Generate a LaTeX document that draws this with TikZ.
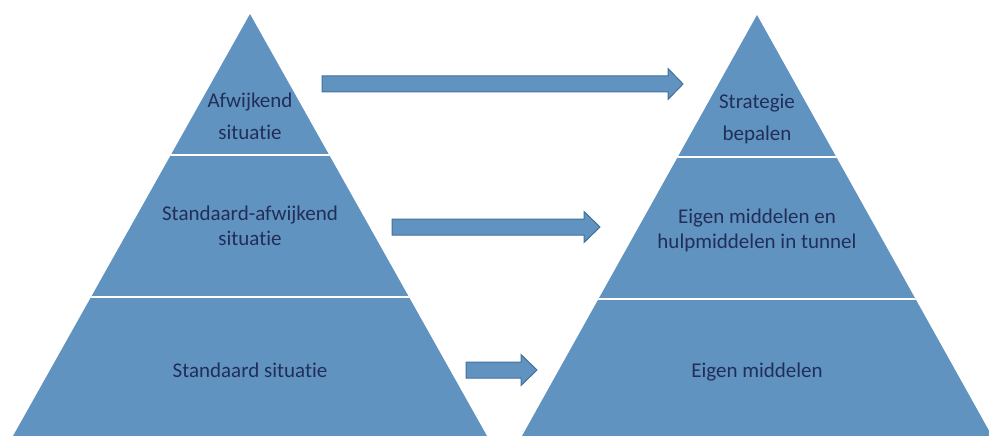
\documentclass[tikz,border=0pt]{standalone}
\usepackage{fontspec}
\setmainfont[Ligatures=NoCommon]{Carlito}
\definecolor{pyrfill}{RGB}{96,147,191}
\definecolor{arrowline}{RGB}{66,113,155}
\definecolor{labeltext}{RGB}{34,46,90}
\tikzset{
  layer/.style={fill=pyrfill, draw=none},
  divider/.style={draw=white, line width=2pt},
  blockarrow/.style={fill=pyrfill, draw=arrowline, line width=1pt, line join=miter},
  lbl/.style={text=labeltext, align=center, inner sep=0pt,
    font=\fontsize{21}{32}\selectfont},
  lbltight/.style={lbl, font=\fontsize{21}{25}\selectfont},
}
% block arrow: shaft start x, head start x, tip x, centre y
\newcommand\flatarrow[4]{%
  \draw[blockarrow] (#1,#4-8) -- (#2,#4-8) -- (#2,#4-15.5) -- (#3,#4)
    -- (#2,#4+15.5) -- (#2,#4+8) -- (#1,#4+8) -- cycle;}
\begin{document}
\begin{tikzpicture}[x=1pt,y=-1pt]
\useasboundingbox (0,0) rectangle (989,436);
\clip (0,0) rectangle (989,436);

% left pyramid
\coordinate (LA) at (250,14);
\coordinate (LL) at (13,436);
\coordinate (LR) at (487,436);
\begin{scope}
  \fill[layer] (LA) -- (LR) -- (LL) -- cycle;
  \clip (LA) -- (LR) -- (LL) -- cycle;
  \draw[divider] (0,155) -- (500,155);
  \draw[divider] (0,297) -- (500,297);
\end{scope}

% right pyramid
\coordinate (RA) at (757,15);
\coordinate (RL) at (522,436);
\coordinate (RR) at (992,436);
\begin{scope}
  \fill[layer] (RA) -- (RR) -- (RL) -- cycle;
  \clip (RA) -- (RR) -- (RL) -- cycle;
  \draw[divider] (500,157) -- (1000,157);
  \draw[divider] (500,299) -- (1000,299);
\end{scope}

% labels
\node[lbl] (l1) at (250,116.5) {Afwijkend\\situatie};
\node[lbltight] (l2) at (250,225.5) {Standaard-afwijkend\\situatie};
\node[lbl, anchor=base] (l3) at (250,377) {Standaard situatie};
\node[lbl] (r1) at (757,119) {Strategie\\bepalen};
\node[lbltight] (r2) at (757,230) {Eigen middelen en\\hulpmiddelen in tunnel};
\node[lbl, anchor=base] (r3) at (757,377) {Eigen middelen};

% arrows between the levels
\flatarrow{322}{668}{683}{84}
\flatarrow{392}{584}{600}{227}
\flatarrow{466}{521}{537}{370}
\end{tikzpicture}
\end{document}
